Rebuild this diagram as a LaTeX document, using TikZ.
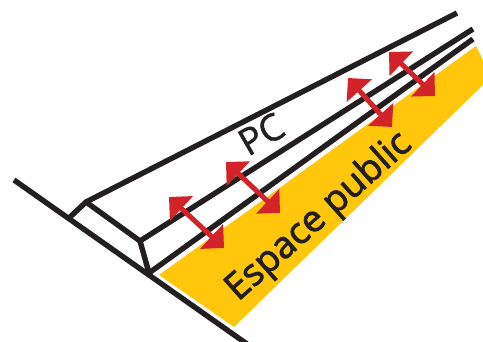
\documentclass[tikz,border=0pt]{standalone}
\usepackage{fontspec}
\setmainfont{Open Sans}
\newfontfamily\pcfont[FakeBold=1.2]{Open Sans}
\newfontfamily\publicfont[FakeBold=2.2]{Open Sans}
\usetikzlibrary{arrows.meta}
\definecolor{roofblack}{HTML}{231F20}
\definecolor{arrowred}{HTML}{D2232A}
\definecolor{zoneyellow}{HTML}{FFC60B}
\tikzset{
    wall/.style={draw=roofblack, line width=5.4pt},
    flow/.style={{Triangle[length=17pt, width=33pt]}-{Triangle[length=17pt, width=33pt]}, draw=arrowred, fill=arrowred, line width=5pt},
    label/.style={text=roofblack, inner sep=0pt, anchor=base west}
}
\begin{document}
\begin{tikzpicture}[x=1pt, y=-1pt]
		\useasboundingbox (0,0) rectangle (483,342);

		% --- points of the section ---
		\coordinate (groundA) at (14,180);
		\coordinate (groundB) at (247,344);
		\coordinate (foot) at (69,218);
		\coordinate (knee) at (86,202);
		\coordinate (roofEnd) at (457,13);
		\coordinate (eave) at (140,241);
		\coordinate (base) at (149,273);
		\coordinate (midEnd) at (473,29);
		\coordinate (lowEnd) at (473,39);

		% --- yellow zone ---
		\fill[zoneyellow] (159,275) -- (234,327) -- (483,85) -- (483,60) -- (476,46) -- cycle;

		% --- lines ---
		\draw[wall] (groundA) -- (groundB);
		\draw[wall] (foot) -- (knee) -- (roofEnd);
		\draw[wall] (knee) -- (eave) -- (midEnd);
		\draw[wall] (eave) -- (base);
		\draw[wall] (base) -- (lowEnd);

		% --- arrows ---
		\coordinate (a1) at (169,197);
		\coordinate (b1) at (224,248);
		\coordinate (a2) at (226,162);
		\coordinate (b2) at (280,213);
		\coordinate (a3) at (348,78);
		\coordinate (b3) at (392,127);
		\coordinate (a4) at (389,52);
		\coordinate (b4) at (435,96);
		\foreach \i in {1,2,3,4}
			\draw[flow] (a\i) -- (b\i);

		% --- labels ---
		\node[label, rotate=30, font=\fontsize{37}{37}\selectfont\pcfont] (pc) at (248,157) {PC};
		\node[label, rotate=41.6, font=\fontsize{37}{37}\selectfont\publicfont] (public) at (238,302) {Espace public};
	\end{tikzpicture}
\end{document}
